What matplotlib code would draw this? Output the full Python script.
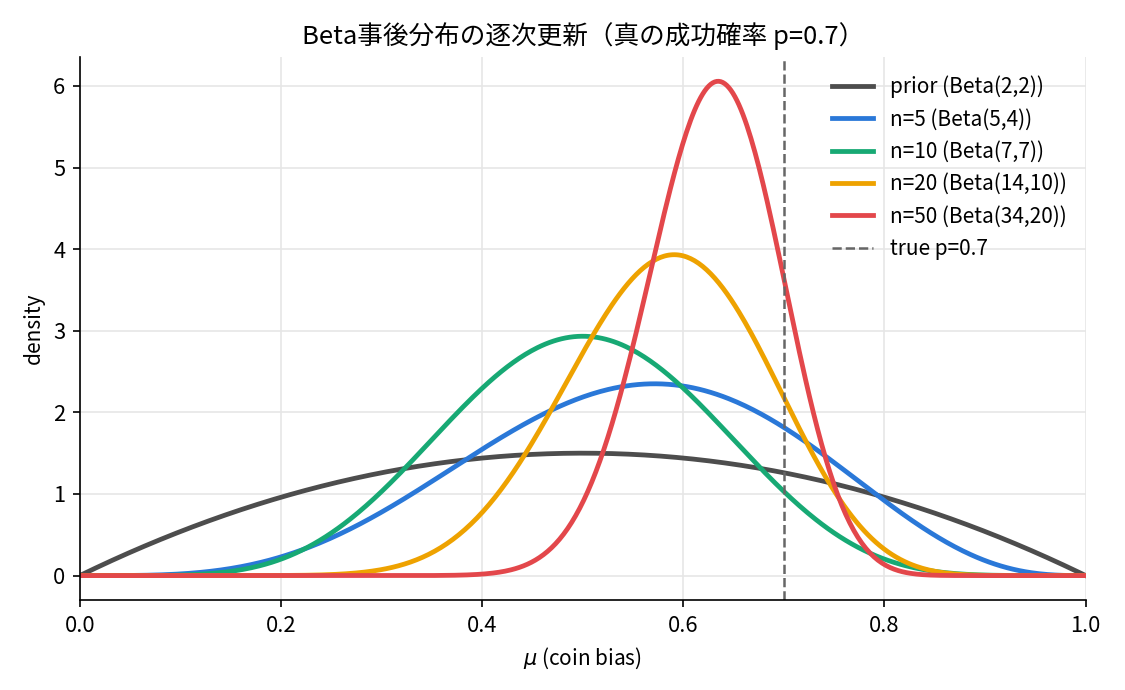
import math
import matplotlib
matplotlib.use("Agg")
import matplotlib.pyplot as plt
import numpy as np

plt.rcParams['font.family'] = ['Noto Sans CJK JP', 'DejaVu Sans']

labels = ['prior (Beta(2,2))', 'n=5 (Beta(5,4))', 'n=10 (Beta(7,7))',
          'n=20 (Beta(14,10))', 'n=50 (Beta(34,20))']
alphas = [2, 5, 7, 14, 34]
betas = [2, 4, 7, 10, 20]
colors = ['#4d4d4d', '#2a78d8', '#17a974', '#eea200', '#e3474b']
true_p = 0.7


def beta_pdf(x, a, b):
    lognorm = math.lgamma(a + b) - math.lgamma(a) - math.lgamma(b)
    with np.errstate(divide='ignore'):
        out = np.exp(lognorm + (a - 1) * np.log(x) + (b - 1) * np.log(1 - x))
    return np.nan_to_num(out)


mu = np.linspace(0, 1, 500)

fig, ax = plt.subplots(figsize=(7.5, 4.6), dpi=150)
for lab, a, b, c in zip(labels, alphas, betas, colors):
    ax.plot(mu, beta_pdf(mu, a, b), color=c, lw=2.3, label=lab)
ax.axvline(true_p, color='#666666', ls='--', lw=1.2, label=f'true p={true_p}')

ax.set_xlim(0, 1)
ax.set_title('Beta事後分布の逐次更新（真の成功確率 p=0.7）', fontsize=12.3)
ax.set_xlabel(r'$\mu$ (coin bias)', fontsize=10)
ax.set_ylabel('density', fontsize=10)
ax.tick_params(labelsize=10.5)
ax.grid(True, color='#e6e6e6', lw=0.8)
ax.set_axisbelow(True)
for s in ['top', 'right']:
    ax.spines[s].set_visible(False)
ax.legend(frameon=False, fontsize=10, loc='upper right')

fig.subplots_adjust(left=0.071, right=0.965, top=0.918, bottom=0.13)
fig.savefig('out.png')
